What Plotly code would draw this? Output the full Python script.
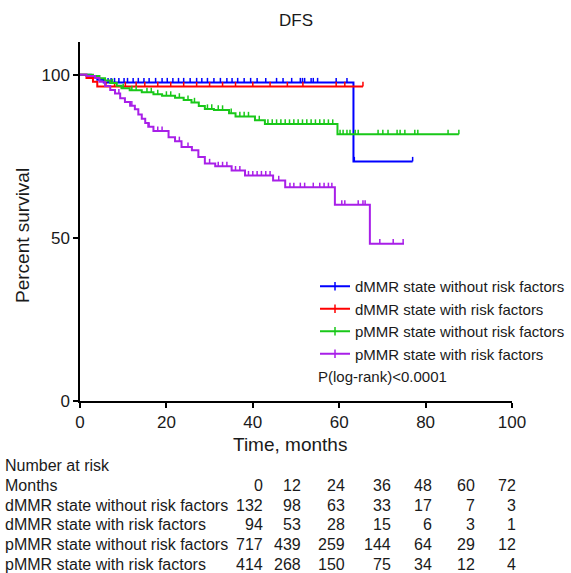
import plotly.graph_objects as go

# ---------------- data ----------------
groups = ["dMMR state without risk factors", "dMMR state with risk factors",
          "pMMR state without risk factors", "pMMR state with risk factors"]
colors = ["#0000FF", "#FF0000", "#19C819", "#A81FE8"]

blue_t = [0, 2.5, 4.0, 5.5, 63.3, 77]
blue_s = [100, 99.2, 98.4, 97.6, 73.4, 73.4]
red_t = [0, 1.5, 3.0, 4.0, 65.5]
red_s = [100, 99.0, 97.8, 96.4, 96.4]
green_t = [0, 3.0, 4.5, 5.8, 7, 8.5, 9.6, 11.5, 14.3, 17, 19, 22, 24, 25.8, 27.5, 28.9,
           31, 34.5, 36, 40.5, 42.8, 59.6, 87.7]
green_s = [100, 99.6, 98.9, 98.2, 97.4, 96.6, 95.8, 95.2, 94.6, 94.0, 93.5, 92.9, 92.2, 91.5,
           90.4, 89.5, 89.2, 88.2, 87.2, 86.0, 84.9, 81.7, 81.7]
purple_t = [0, 1.5, 3.5, 4.5, 5.8, 7, 8.1, 9.3, 10.4, 11.6, 12.7, 13.5, 14.3, 15.1, 15.8, 17,
            20.5, 22, 23.5, 25.9, 27.4, 28.9, 31.3, 35.1, 38.2, 44.7, 47.5, 59, 67.1, 75]
purple_s = [100, 99.6, 99.0, 97.8, 96.5, 95.3, 94.2, 92.8, 91.6, 90.5, 89.4, 87.8, 86.5, 85.2,
            84.0, 82.7, 80.8, 79.6, 77.8, 76.8, 74.8, 72.8, 71.9, 70.6, 69.1, 67.6, 65.5, 60.1,
            48.2, 48.2]

blue_c = [5.8, 6.5, 7.2, 8, 9, 10.2, 11, 12.3, 13.5, 14.8, 16, 17.5, 19, 20.2, 21.5, 22.8, 24,
          25.5, 27, 28.2, 29.5, 31, 32.5, 34, 35.2, 36.5, 38, 39.5, 41, 43, 45.5, 47, 49, 51,
          51.5, 52, 53.5, 54, 55, 59.3, 61.8, 63.5, 77]
red_c = [6, 8, 10.5, 13, 15, 18, 21, 24, 27, 30, 33, 36, 40, 44, 48, 51.6, 59.3, 61.3, 65.5]
green_c = [7.5, 10, 12, 13, 15.5, 16.5, 18, 20, 21, 23, 25, 26.5, 29.5, 30.5, 32, 33, 35, 37, 38,
           39, 41.5, 43.5, 44.5, 45.5, 46.5, 47.5, 48.5, 49.5, 50.5, 51.5, 52.5, 53.5, 54.5, 55.5,
           56.5, 57.5, 58.5, 60.2, 60.9, 61.8, 62.5, 63.7, 64.4, 69, 70.1, 71.3, 73.4, 74.1,
           75.2, 77.5, 78.2, 85.2, 87.7]
purple_c = [9, 12, 16, 18, 19, 23, 25, 30, 32, 33, 34, 36, 37, 39, 40, 41, 42, 43, 44, 46, 48.6,
            49.5, 51, 52, 54, 55.5, 56.5, 57.5, 58.3, 60.6, 61.3, 64.4, 65.5, 66, 69.4, 72.5, 74.8]

risk_months = [0, 12, 24, 36, 48, 60, 72]
risk_blue = [132, 98, 63, 33, 17, 7, 3]
risk_red = [94, 53, 28, 15, 6, 3, 1]
risk_green = [717, 439, 259, 144, 64, 29, 12]
risk_purple = [414, 268, 150, 75, 34, 12, 4]

title_text = "DFS"
p_text = "P(log-rank)<0.0001"

# ---------------- layout helpers ----------------
W, H = 571, 573
L, R, T, B = 80, 512, 42, 401
FONT = "Liberation Sans, Arial, sans-serif"
TXT = "#1a1a1a"


def px(x):
    return (x - L) / (R - L)


def py(y):
    return (B - y) / (B - T)


def surv_at(ts, ss, t):
    v = ss[0]
    for ti, si in zip(ts, ss):
        if ti <= t:
            v = si
    return v


fig = go.Figure()
series = [(blue_t, blue_s, blue_c), (red_t, red_s, red_c),
          (green_t, green_s, green_c), (purple_t, purple_s, purple_c)]

for (ts, ss, cs), col, name in zip(series, colors, groups):
    fig.add_trace(go.Scatter(x=ts, y=ss, mode="lines", line=dict(color=col, width=2, shape="hv"),
                             showlegend=False, hoverinfo="skip"))
    cx, cy = [], []
    for c in cs:
        s = surv_at(ts, ss, c)
        cx += [c, c, None]
        cy += [s, s + 1.4, None]
    fig.add_trace(go.Scatter(x=cx, y=cy, mode="lines", line=dict(color=col, width=1.5),
                             showlegend=False, hoverinfo="skip"))

for col, name in zip(colors, groups):
    fig.add_trace(go.Scatter(x=[None], y=[None], mode="lines+markers", name=name,
                             line=dict(color=col, width=2),
                             marker=dict(symbol="line-ns", size=6, line=dict(color=col, width=1.5))))

ann = []
ann.append(dict(text=title_text, x=px(296), y=py(20), xref="paper", yref="paper",
                xanchor="center", yanchor="middle",
                showarrow=False, font=dict(size=17, color=TXT, family=FONT)))
ann.append(dict(text="Time, months", x=px(290), y=py(444), xref="paper", yref="paper",
                xanchor="center", yanchor="middle",
                showarrow=False, font=dict(size=19, color=TXT, family=FONT)))
ann.append(dict(text="Percent survival", x=px(22), y=py(235), xref="paper", yref="paper",
                xanchor="center", yanchor="middle",
                textangle=-90, showarrow=False, font=dict(size=19, color=TXT, family=FONT)))
ann.append(dict(text=p_text, x=px(316), y=py(376), xref="paper", yref="paper", xanchor="left",
                yanchor="middle",
                showarrow=False, font=dict(size=15, color=TXT, family=FONT)))

# number at risk table
row_y = [485, 505, 524, 544, 564]
col_right = [265, 303, 347, 393, 434, 477, 518]
ann.append(dict(text="Number at risk", x=px(3), y=py(465), xref="paper", yref="paper",
                xanchor="left", yanchor="middle",
                showarrow=False, font=dict(size=16, color=TXT, family=FONT)))
rows = [("Months", risk_months), (groups[0], risk_blue), (groups[1], risk_red),
        (groups[2], risk_green), (groups[3], risk_purple)]
for (lab, vals), yy in zip(rows, row_y):
    ann.append(dict(text=lab, x=px(3), y=py(yy), xref="paper", yref="paper", xanchor="left",
                    yanchor="middle",
                    showarrow=False, font=dict(size=16, color=TXT, family=FONT)))
    for v, xr in zip(vals, col_right):
        ann.append(dict(text=str(v), x=px(xr), y=py(yy), xref="paper", yref="paper",
                        xanchor="right", yanchor="middle", showarrow=False,
                        font=dict(size=16, color=TXT, family=FONT)))

fig.update_layout(
    width=W, height=H,
    margin=dict(l=L, r=W - R, t=T, b=H - B, autoexpand=False),
    paper_bgcolor="white", plot_bgcolor="white",
    font=dict(family=FONT, color=TXT),
    annotations=ann,
    legend=dict(x=px(315), y=py(270), xanchor="left", yanchor="top",
                font=dict(size=15, color=TXT, family=FONT), bgcolor="rgba(0,0,0,0)",
                tracegroupgap=0, itemwidth=30),
    xaxis=dict(range=[0, 100], tickvals=[0, 20, 40, 60, 80, 100], showgrid=False,
               zeroline=False, showline=True, linecolor="black", linewidth=1.5,
               ticks="outside", ticklen=5, tickwidth=1.5, tickcolor="black",
               tickfont=dict(size=17, color=TXT, family=FONT)),
    yaxis=dict(range=[0, 110], tickvals=[0, 50, 100], showgrid=False, zeroline=False,
               showline=True, linecolor="black", linewidth=1.5,
               ticks="outside", ticklen=5, tickwidth=1.5, tickcolor="black",
               tickfont=dict(size=17, color=TXT, family=FONT)),
)

fig.write_html("out.html")
